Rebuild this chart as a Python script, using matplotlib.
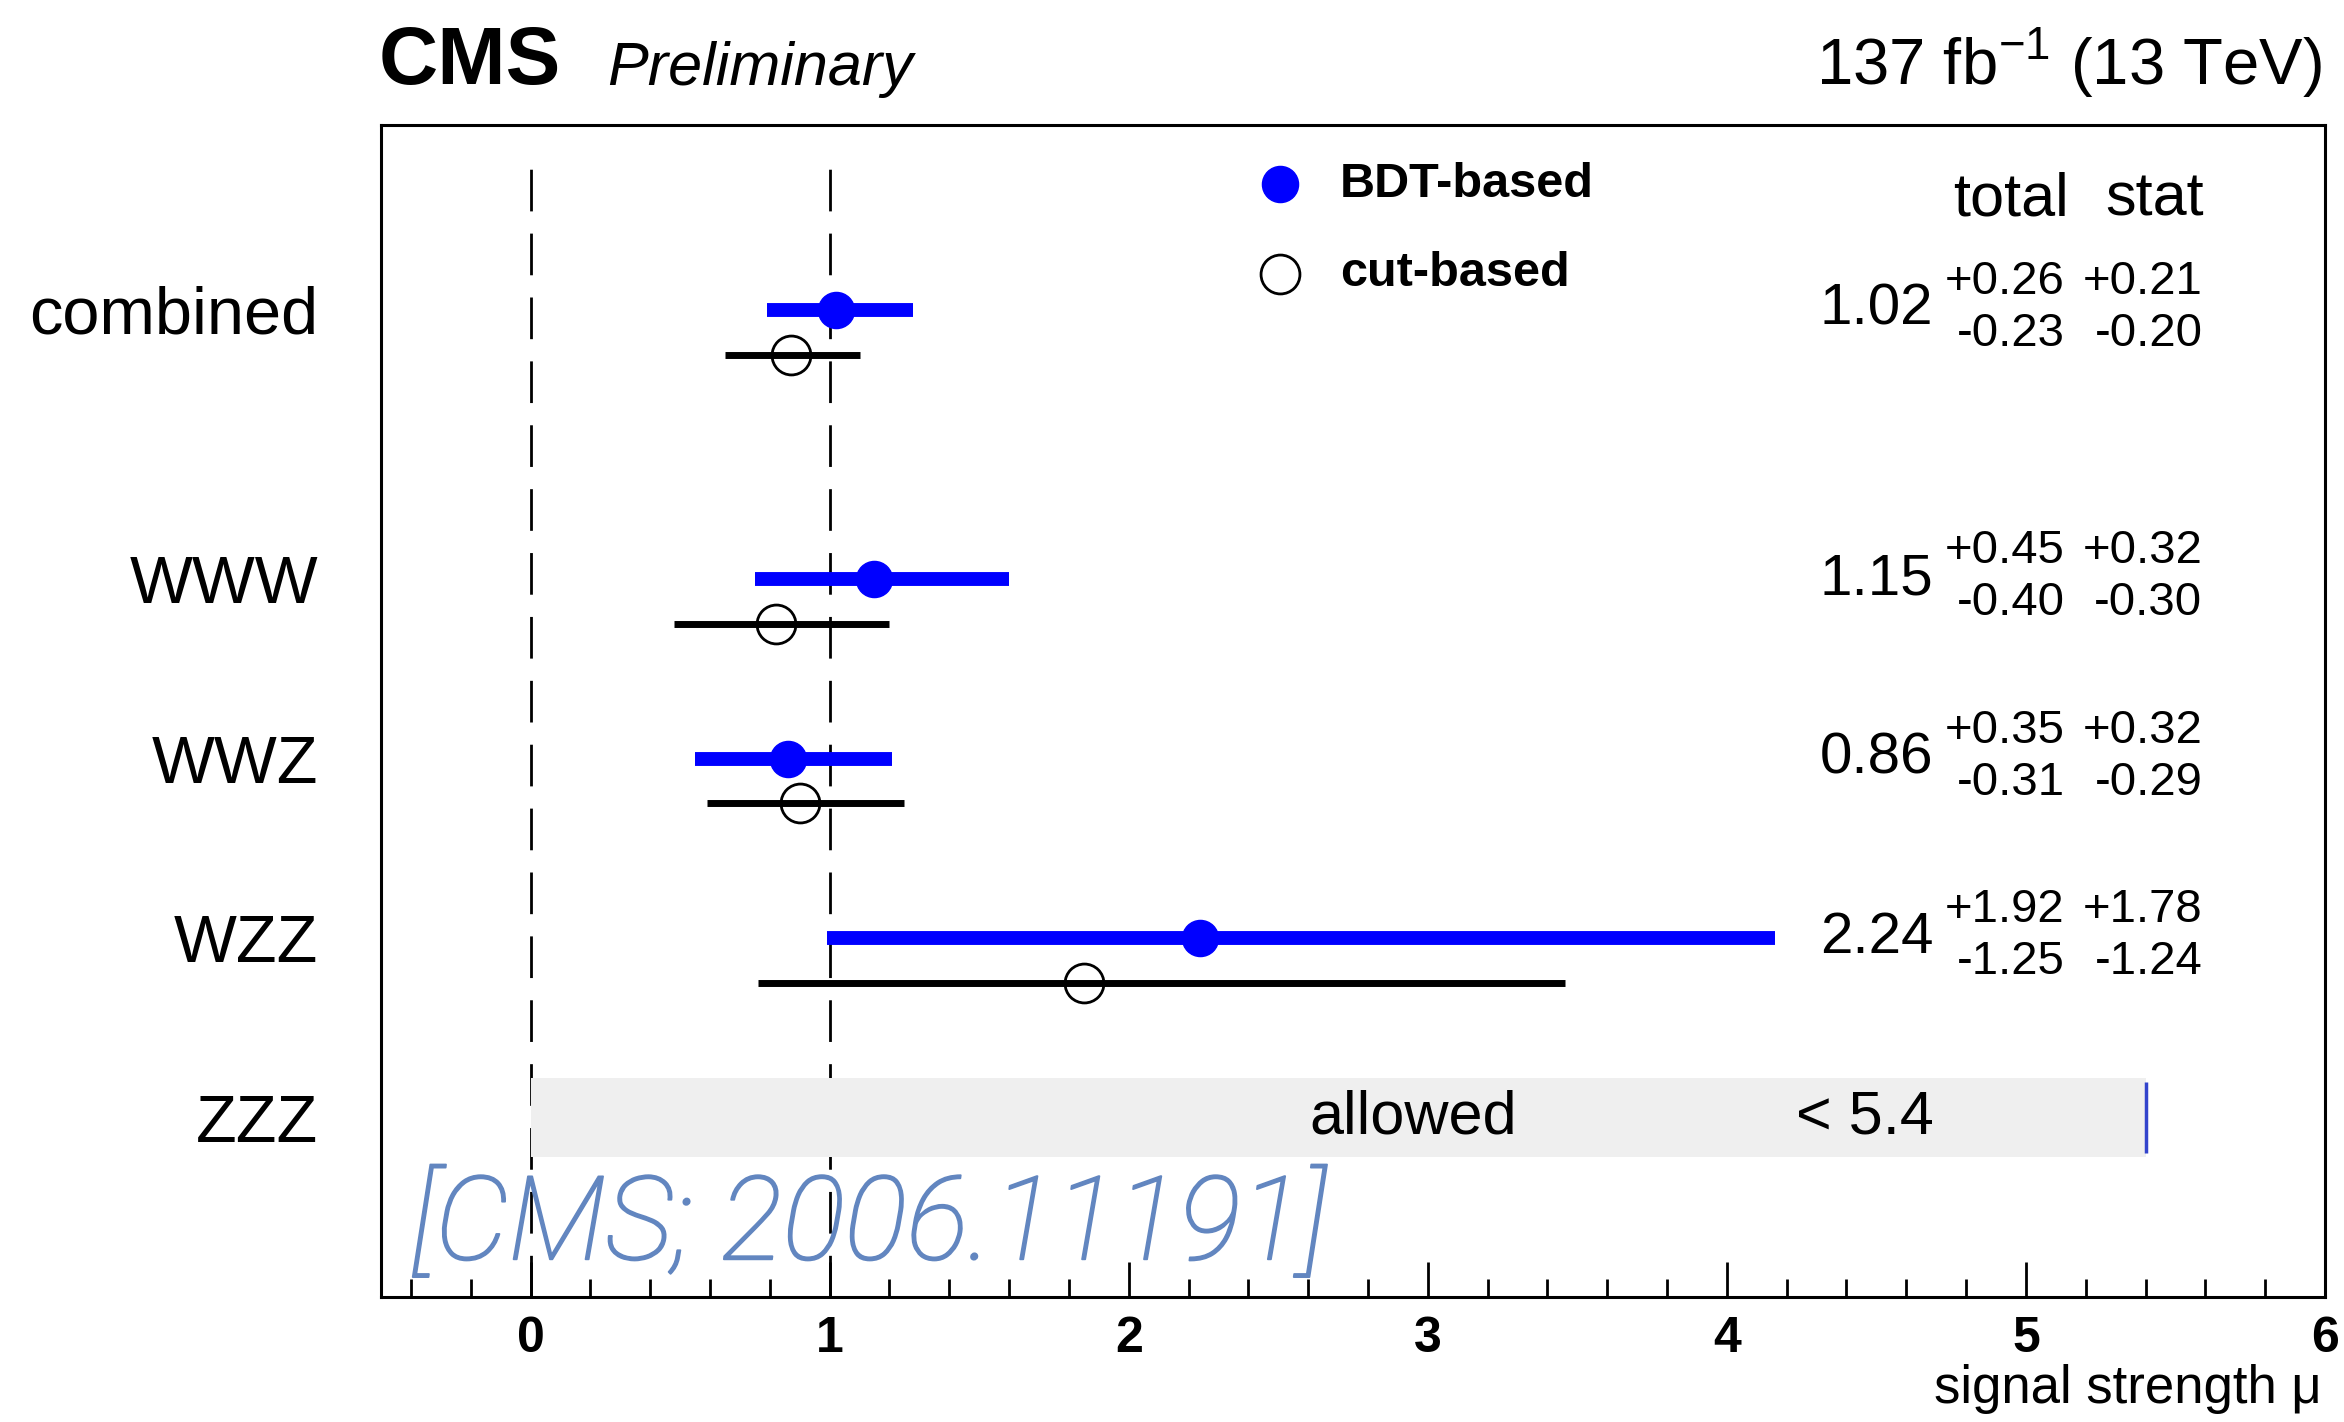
import matplotlib
matplotlib.use("Agg")
import matplotlib.pyplot as plt
import matplotlib.patheffects as pe
from matplotlib.ticker import MultipleLocator

plt.rcParams["font.family"] = ["Liberation Sans", "DejaVu Sans"]
plt.rcParams["mathtext.fontset"] = "custom"
plt.rcParams["mathtext.rm"] = "Liberation Sans"
plt.rcParams["lines.scale_dashes"] = False

# Signal strengths per channel
channels = ["combined", "WWW", "WWZ", "WZZ", "ZZZ"]
bdt_mu = [1.02, 1.15, 0.86, 2.24]
bdt_up_tot = [0.26, 0.45, 0.35, 1.92]
bdt_dn_tot = [0.23, 0.40, 0.31, 1.25]
bdt_up_stat = [0.21, 0.32, 0.32, 1.78]
bdt_dn_stat = [0.20, 0.30, 0.29, 1.24]
cut_mu = [0.87, 0.82, 0.90, 1.85]
cut_dn = [0.22, 0.34, 0.31, 1.09]
cut_up = [0.23, 0.38, 0.35, 1.61]
zzz_limit = 5.4
xticks = [0, 1, 2, 3, 4, 5, 6]

# Layout: row centres (BDT result), cut-based result drawn just below
rows = [5.5, 4.0, 3.0, 2.0, 1.0]
cut_shift = 0.25
bdt_rows = rows[:4]
cut_rows = [r - cut_shift for r in rows[:4]]

W, H = 2344, 1422
fig = plt.figure(figsize=(W / 100, H / 100), dpi=100)
ax = fig.add_axes([381 / W, 1 - 1297 / H, (2325 - 381) / W, (1297 - 125) / H])
ax.set_xlim(-0.5, 6.0)
ax.set_ylim(0.0, 6.53)

# Reference lines at mu = 0 and mu = 1
for xv in (0, 1):
    ax.axvline(xv, ymin=0, ymax=0.965, color="black", lw=2.0,
               dashes=(30, 16), zorder=1)

# ZZZ: allowed region up to the upper limit
ax.barh(rows[4], zzz_limit, left=0, height=0.44, color="#efefef", zorder=2)
ax.vlines(zzz_limit, rows[4] - 0.2, rows[4] + 0.2, color="#3344cc", lw=2.5, zorder=3)
ax.text(2.95, rows[4], "allowed", ha="center", va="center", fontsize=44, zorder=4)
ax.text(4.23, rows[4], f"< {zzz_limit:.1f}", ha="left", va="center", fontsize=44, zorder=4)

# Cut-based results
ax.errorbar(cut_mu, cut_rows, xerr=[cut_dn, cut_up], fmt="o", ms=28,
            mfc="none", mec="black", mew=2.0, ecolor="black",
            elinewidth=5, capsize=0, zorder=5)
# BDT-based results
ax.errorbar(bdt_mu, bdt_rows, xerr=[bdt_dn_tot, bdt_up_tot], fmt="o", ms=26,
            color="#0000ff", mec="#0000ff", ecolor="#0000ff",
            elinewidth=10, capsize=0, zorder=6)

# Numerical results with total and stat uncertainties
ax.text(4.95, 6.11, "total", ha="center", va="center", fontsize=44)
ax.text(5.43, 6.11, "stat", ha="center", va="center", fontsize=44)
for r, mu, ut, dt, us, ds in zip(bdt_rows, bdt_mu, bdt_up_tot, bdt_dn_tot,
                                 bdt_up_stat, bdt_dn_stat):
    ax.text(4.69, r, f"{mu:.2f}", ha="right", va="center", fontsize=42)
    ax.text(5.13, r + 0.155, f"+{ut:.2f}", ha="right", va="center", fontsize=34)
    ax.text(5.13, r - 0.135, f"-{dt:.2f}", ha="right", va="center", fontsize=34)
    ax.text(5.59, r + 0.155, f"+{us:.2f}", ha="right", va="center", fontsize=34)
    ax.text(5.59, r - 0.135, f"-{ds:.2f}", ha="right", va="center", fontsize=34)

# Legend
ax.plot([2.505], [6.20], "o", ms=26, color="#0000ff", zorder=6)
ax.plot([2.505], [5.70], "o", ms=28, mfc="none", mec="black", mew=2.0, zorder=6)
ax.text(2.706, 6.20, "BDT-based", ha="left", va="center", fontsize=35, fontweight="bold")
ax.text(2.706, 5.70, "cut-based", ha="left", va="center", fontsize=35, fontweight="bold")

# Axes styling
ax.set_xticks(xticks, labels=[str(t) for t in xticks], fontweight="bold")
ax.xaxis.set_minor_locator(MultipleLocator(0.2))
ax.tick_params(axis="x", which="major", direction="in", length=25, width=2,
               pad=14, labelsize=36, top=False)
ax.tick_params(axis="x", which="minor", direction="in", length=13, width=2, top=False)
ax.set_yticks(rows, labels=channels)
ax.tick_params(axis="y", length=0, pad=45, labelsize=48)
for sp in ax.spines.values():
    sp.set_linewidth(2.2)

ax.set_xlabel("signal strength μ", fontsize=38, ha="right", va="baseline")
ax.xaxis.set_label_coords((2322 - 381) / 1944, -(1403 - 1297) / 1172)

cite_color = "#6286c0"
ax.text(-0.40, 0.21, "[CMS; 2006.11191]", fontsize=84, family="Roboto",
        fontweight="light", style="italic", color=cite_color, zorder=7,
        path_effects=[pe.withStroke(linewidth=1.3, foreground=cite_color)])

# Header
fig.text(379 / W, 1 - 84 / H, "CMS", fontsize=59, fontweight="bold", va="baseline")
fig.text(607 / W, 1 - 85 / H, "Preliminary", fontsize=44, style="italic", va="baseline")
fig.text(2322 / W, 1 - 84 / H, r"137 fb$^{\mathregular{-1}}$ (13 TeV)", fontsize=47,
         ha="right", va="baseline")

fig.savefig("out.png", dpi=100, facecolor="white")
